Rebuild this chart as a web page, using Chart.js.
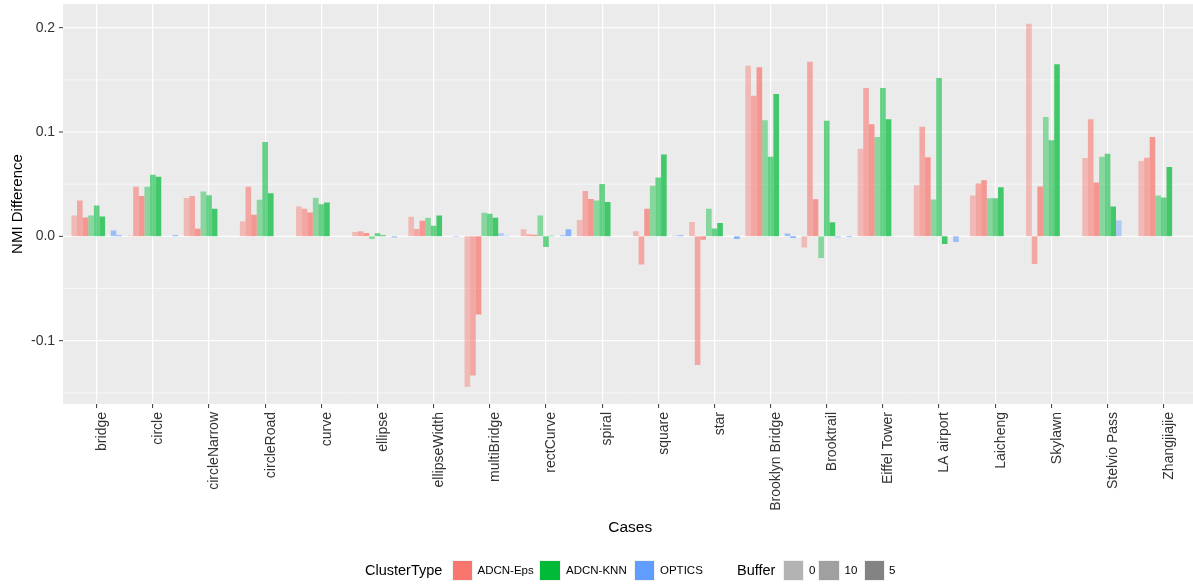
<!DOCTYPE html>
<html>
<head>
<meta charset="utf-8">
<script src="https://cdn.jsdelivr.net/npm/chart.js@4.4.1/dist/chart.umd.min.js"></script>
<style>
  html, body { margin: 0; padding: 0; background: #ffffff; overflow: hidden; }
  #wrap { position: relative; width: 1193px; height: 587px; }
  #chart { position: absolute; left: 0; top: 0; }
  .lg { position: absolute; font-family: "Liberation Sans", Arial, Helvetica, sans-serif; color: #000; white-space: nowrap; line-height: 1; }
  .lg-title { font-size: 14.5px; top: 563px; }
  .lg-text { font-size: 11.5px; top: 564.5px; }
  .lg-key { position: absolute; top: 559.5px; width: 21.5px; height: 21.5px; box-sizing: border-box; border: 1px solid #f2f2f2; }
</style>
</head>
<body>
<div id="wrap">
  <canvas id="chart" width="1193" height="587"></canvas>
  <div id="legend"></div>
</div>
<script>
// Categories along the x axis
const CATEGORIES = ['bridge', 'circle', 'circleNarrow', 'circleRoad', 'curve', 'ellipse', 'ellipseWidth',
  'multiBridge', 'rectCurve', 'spiral', 'square', 'star', 'Brooklyn Bridge', 'Brooktrail',
  'Eiffel Tower', 'LA airport', 'Laicheng', 'Skylawn', 'Stelvio Pass', 'Zhangjiajie'];

// NMI difference per cluster type and buffer (null = no bar)
const EPS_0  = [0.020, 0.0007, 0.0368, 0.0143, 0.0286, 0.0041, 0.0187, -0.1441, 0.0067, 0.0156, 0.0048, 0.0137, 0.1634, -0.0108, 0.084, 0.049, 0.0391, 0.2038, 0.075, 0.0722];
const EPS_10 = [0.0343, 0.0476, 0.0387, 0.0476, 0.0264, 0.0048, 0.007, -0.1334, 0.0019, 0.0435, -0.027, -0.1232, 0.1347, 0.1673, 0.1422, 0.105, 0.0506, -0.0266, 0.1123, 0.0754];
const EPS_5  = [0.018, 0.0387, 0.0073, 0.0206, 0.0229, 0.0032, 0.0149, -0.0749, 0.0016, 0.0359, 0.0264, -0.0032, 0.162, 0.0356, 0.1075, 0.0757, 0.0537, 0.0477, 0.0515, 0.0951];
const KNN_0  = [0.020, 0.0476, 0.0429, 0.035, 0.0371, -0.0025, 0.0178, 0.0225, 0.020, 0.0343, 0.0486, 0.0264, 0.1113, -0.0207, 0.0951, 0.0353, 0.0366, 0.1145, 0.0764, 0.0391];
const KNN_10 = [0.0295, 0.059, 0.0394, 0.0905, 0.0308, 0.0029, 0.0102, 0.0216, -0.0102, 0.0502, 0.0565, 0.0076, 0.0764, 0.1107, 0.1422, 0.1517, 0.0366, 0.0922, 0.0792, 0.0372];
const KNN_5  = [0.019, 0.057, 0.0264, 0.0413, 0.0324, 0.001, 0.020, 0.0178, 0.0005, 0.033, 0.0784, 0.0127, 0.1365, 0.0134, 0.1123, -0.0073, 0.047, 0.165, 0.0286, 0.0665];
const OPT_0  = [null, null, null, null, null, null, null, 0.0029, null, null, null, null, null, -0.001, 0.0004, null, null, null, 0.0153, null];
const OPT_10 = [0.0055, null, null, null, null, -0.001, null, 0.0005, 0.001, null, 0.0005, null, 0.0027, null, null, -0.0054, null, null, null, null];
const OPT_5  = [0.001, 0.001, null, null, null, null, -0.0005, null, 0.0067, null, 0.001, -0.0026, -0.0016, -0.0006, null, null, null, null, null, null];

const CLUSTER_TYPES = ['ADCN-Eps', 'ADCN-KNN', 'OPTICS'];
const BUFFERS = ['0', '10', '5'];
const Y_LABEL_TICKS = [-0.1, 0.0, 0.1, 0.2];
const Y_MINOR_TICKS = [-0.15, -0.05, 0.05, 0.15];
const Y_MIN = -0.1607;
const Y_MAX = 0.2227;

const SERIES = {
  'ADCN-Eps': { '0': EPS_0, '10': EPS_10, '5': EPS_5 },
  'ADCN-KNN': { '0': KNN_0, '10': KNN_10, '5': KNN_5 },
  'OPTICS':   { '0': OPT_0, '10': OPT_10, '5': OPT_5 }
};
const TYPE_RGB = { 'ADCN-Eps': [248, 118, 109], 'ADCN-KNN': [0, 186, 56], 'OPTICS': [97, 156, 255] };
const BUFFER_ALPHA = { '0': 0.43, '10': 0.58, '5': 0.72 };
const BUFFER_KEY = { '0': '#b3b3b3', '10': '#a0a0a0', '5': '#838383' };

const FONT = '"Liberation Sans", Arial, Helvetica, sans-serif';

const datasets = [];
CLUSTER_TYPES.forEach(type => {
  BUFFERS.forEach(buf => {
    const [r, g, b] = TYPE_RGB[type];
    datasets.push({
      label: type + ' / ' + buf,
      data: SERIES[type][buf],
      backgroundColor: `rgba(${r},${g},${b},${BUFFER_ALPHA[buf]})`,
      borderWidth: 0
    });
  });
});

// grey panel with horizontal grid lines, spanning the padded plot region
const panelPlugin = {
  id: 'panel',
  beforeDraw(chart) {
    const { ctx, chartArea, scales } = chart;
    const y = scales.y;
    const band = (chartArea.right - chartArea.left) / CATEGORIES.length;
    const left = chartArea.left - 0.1 * band;
    const right = chartArea.right + 0.1 * band;
    ctx.save();
    ctx.fillStyle = '#ebebeb';
    ctx.fillRect(left, chartArea.top, right - left, chartArea.bottom - chartArea.top);
    ctx.strokeStyle = '#ffffff';
    ctx.lineWidth = 0.6;
    Y_MINOR_TICKS.forEach(v => {
      const py = y.getPixelForValue(v);
      ctx.beginPath(); ctx.moveTo(left, py); ctx.lineTo(right, py); ctx.stroke();
    });
    ctx.lineWidth = 1.2;
    Y_LABEL_TICKS.forEach(v => {
      const py = y.getPixelForValue(v);
      ctx.beginPath(); ctx.moveTo(left, py); ctx.lineTo(right, py); ctx.stroke();
    });
    ctx.strokeStyle = '#333333';
    ctx.lineWidth = 1;
    Y_LABEL_TICKS.forEach(v => {
      const py = y.getPixelForValue(v);
      ctx.beginPath(); ctx.moveTo(left - 4, py); ctx.lineTo(left, py); ctx.stroke();
    });
    ctx.restore();
  }
};

new Chart(document.getElementById('chart'), {
  type: 'bar',
  data: { labels: CATEGORIES, datasets },
  plugins: [panelPlugin],
  options: {
    responsive: false,
    animation: false,
    layout: { padding: { top: 4, right: 1.2, left: 0, bottom: 0 } },
    plugins: { legend: { display: false }, tooltip: { enabled: false } },
    datasets: { bar: { categoryPercentage: 0.9, barPercentage: 1.0 } },
    scales: {
      x: {
        type: 'category',
        offset: true,
        grid: { display: true, offset: false, color: '#ffffff', lineWidth: 1.2, drawOnChartArea: true,
                drawTicks: true, tickLength: 4, tickColor: '#333333', tickWidth: 1 },
        border: { display: false },
        ticks: { autoSkip: false, maxRotation: 90, minRotation: 90, padding: 4, labelOffset: 5.5,
                 color: '#333333', font: { family: FONT, size: 14 } },
        title: { display: true, text: 'Cases', color: '#000000', font: { family: FONT, size: 15.5 },
                 padding: { top: 0, bottom: 50 } },
        afterFit(scale) {
          scale.height = 183;
          scale.paddingLeft = 0;
          scale.paddingRight = 0;
        }
      },
      y: {
        min: Y_MIN,
        max: Y_MAX,
        afterBuildTicks(scale) { scale.ticks = Y_LABEL_TICKS.map(v => ({ value: v })); },
        grid: { display: false, drawTicks: false },
        border: { display: false },
        ticks: { padding: 13.5, color: '#333333', font: { family: FONT, size: 14 },
                 callback: v => Number(v).toFixed(1) },
        title: { display: true, text: 'NMI Difference', color: '#000000', font: { family: FONT, size: 15 },
                 padding: { top: 9, bottom: 0 } },
        afterFit(scale) {
          scale.width = 68.6;
          scale.paddingTop = 0;
          scale.paddingBottom = 0;
        }
      }
    }
  }
});

// legend: cluster type fills and buffer transparency levels
const legend = document.getElementById('legend');
function addText(text, x, cls) {
  const el = document.createElement('div');
  el.className = 'lg ' + cls;
  el.style.left = x + 'px';
  el.textContent = text;
  legend.appendChild(el);
}
function addKey(color, x) {
  const el = document.createElement('div');
  el.className = 'lg-key';
  el.style.left = x + 'px';
  el.style.background = color;
  legend.appendChild(el);
}
addText('ClusterType', 365, 'lg-title');
const typeKeyX = [451.5, 539, 633.5];
const typeTextX = [477.5, 566, 660];
CLUSTER_TYPES.forEach((t, i) => {
  const [r, g, b] = TYPE_RGB[t];
  addKey(`rgb(${r},${g},${b})`, typeKeyX[i]);
  addText(t, typeTextX[i], 'lg-text');
});
addText('Buffer', 737, 'lg-title');
const bufKeyX = [782.5, 818, 863.5];
const bufTextX = [809, 844.5, 889];
BUFFERS.forEach((b, i) => {
  addKey(BUFFER_KEY[b], bufKeyX[i]);
  addText(b, bufTextX[i], 'lg-text');
});
</script>
</body>
</html>
